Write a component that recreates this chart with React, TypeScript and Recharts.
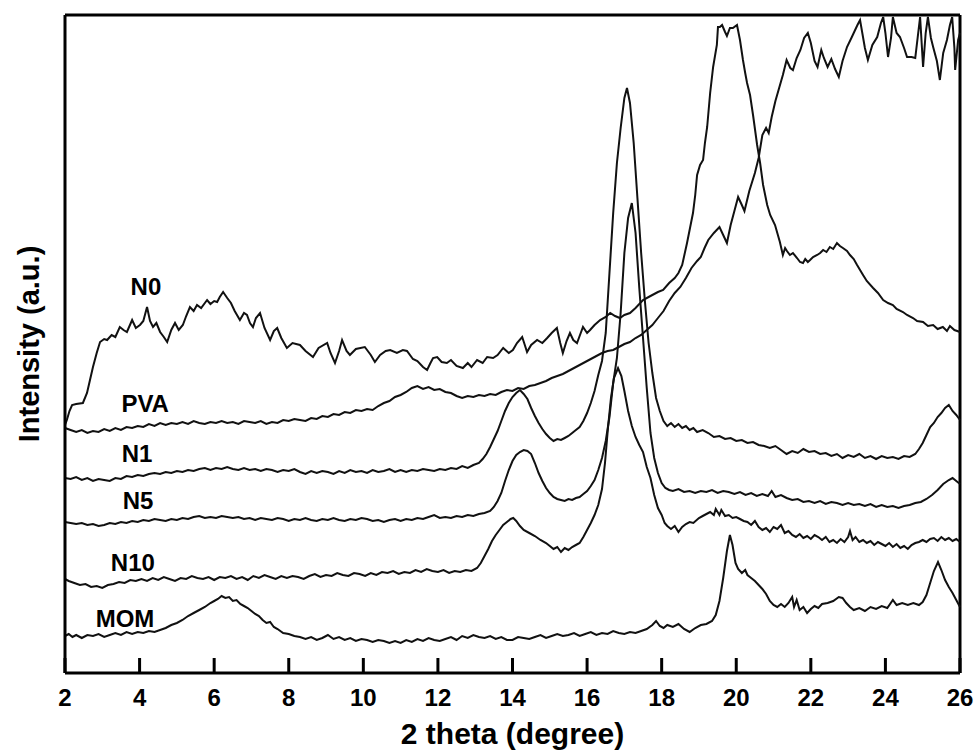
import { LineChart, Line, XAxis, YAxis, ReferenceDot, ReferenceLine } from 'recharts'

// x = 2 theta (degree), y = intensity (a.u., stacked offsets as drawn)
const X_TICKS = [2, 4, 6, 8, 10, 12, 14, 16, 18, 20, 22, 24, 26]
const X_DOMAIN: [number, number] = [2, 26]
const Y_DOMAIN: [number, number] = [0, 658]

const N0: [number, number][] = [
  [2.0,248],[2.05,253],[2.12,262],[2.19,268],[2.3,269],[2.48,270],[2.59,280],[2.67,293],[2.75,306],[2.85,320],[2.94,331],[3.05,334],[3.13,333],[3.25,338],[3.35,336],[3.47,346],[3.57,343],[3.66,341],[3.8,353],[3.9,345],[4.01,348],[4.1,352],[4.2,366],[4.28,352],[4.36,346],[4.45,350],[4.55,341],[4.65,336],[4.74,331],[4.85,343],[4.95,350],[5.05,343],[5.16,348],[5.25,357],[5.35,366],[5.45,362],[5.54,368],[5.65,365],[5.81,373],[5.9,369],[6.0,372],[6.08,371],[6.15,376],[6.24,381],[6.35,375],[6.45,370],[6.55,362],[6.69,353],[6.8,360],[6.88,358],[6.96,350],[7.04,346],[7.12,355],[7.23,360],[7.35,345],[7.5,333],[7.6,342],[7.69,345],[7.8,335],[7.95,325],[8.1,330],[8.3,328],[8.45,322],[8.65,316],[8.8,325],[9.03,330],[9.12,320],[9.24,310],[9.35,322],[9.43,333],[9.55,322],[9.64,318],[9.8,324],[10.04,326],[10.2,318],[10.31,311],[10.45,318],[10.6,322],[10.72,323],[10.9,320],[11.06,323],[11.17,322],[11.33,314],[11.45,312],[11.6,306],[11.71,303],[11.8,310],[11.87,315],[11.98,316],[12.1,311],[12.24,310],[12.35,313],[12.5,307],[12.67,305],[12.8,310],[12.9,306],[13.05,313],[13.2,310],[13.32,316],[13.48,315],[13.6,318],[13.75,325],[13.9,320],[14.01,323],[14.12,330],[14.26,336],[14.33,328],[14.39,321],[14.5,328],[14.66,333],[14.8,330],[14.93,335],[15.05,340],[15.19,345],[15.28,330],[15.35,320],[15.45,332],[15.54,340],[15.63,333],[15.73,330],[15.81,338],[15.89,346],[16.0,340],[16.08,343],[16.2,348],[16.35,353],[16.5,356],[16.62,360],[16.75,357],[16.88,355],[17.0,358],[17.15,360],[17.3,365],[17.5,373],[17.7,377],[17.9,381],[18.04,383],[18.2,390],[18.35,395],[18.45,400],[18.55,408],[18.68,430],[18.76,445],[18.84,460],[18.9,478],[18.95,498],[19.03,508],[19.11,513],[19.16,530],[19.22,546],[19.3,580],[19.38,606],[19.48,628],[19.51,646],[19.56,646],[19.62,648],[19.7,641],[19.75,637],[19.83,645],[19.91,645],[20.02,648],[20.1,633],[20.18,613],[20.24,600],[20.29,590],[20.37,578],[20.45,558],[20.56,528],[20.64,510],[20.72,488],[20.83,468],[20.91,458],[21.04,448],[21.17,431],[21.25,418],[21.31,425],[21.36,422],[21.44,418],[21.52,420],[21.63,415],[21.71,411],[21.79,410],[21.85,414],[21.92,411],[21.98,413],[22.06,416],[22.17,418],[22.25,420],[22.33,423],[22.42,421],[22.51,426],[22.6,424],[22.7,430],[22.78,427],[22.86,425],[22.97,422],[23.05,418],[23.15,414],[23.24,408],[23.32,403],[23.4,398],[23.5,392],[23.67,385],[23.8,380],[23.94,373],[24.07,370],[24.2,368],[24.3,364],[24.47,361],[24.58,358],[24.74,355],[24.85,352],[25.01,351],[25.14,347],[25.28,348],[25.4,344],[25.54,346],[25.65,342],[25.73,347],[25.85,343],[26.0,341],
]

const PVA: [number, number][] = [
  [2.0,245],[2.15,243],[2.3,241],[2.45,243],[2.6,240],[2.75,242],[2.9,241],[3.05,244],[3.2,242],[3.35,245],[3.5,243],[3.65,246],[3.8,245],[3.95,247],[4.1,246],[4.25,249],[4.4,247],[4.55,250],[4.7,248],[4.85,250],[5.0,249],[5.15,251],[5.3,249],[5.45,252],[5.6,250],[5.75,249],[5.9,251],[6.05,250],[6.2,252],[6.35,250],[6.5,251],[6.65,249],[6.8,252],[6.95,251],[7.1,250],[7.25,252],[7.4,249],[7.55,251],[7.7,250],[7.85,253],[8.0,252],[8.15,254],[8.3,253],[8.45,252],[8.6,255],[8.75,254],[8.9,257],[9.05,256],[9.2,259],[9.35,258],[9.5,261],[9.65,260],[9.8,263],[9.95,262],[10.1,264],[10.25,263],[10.4,267],[10.55,270],[10.7,272],[10.85,276],[11.0,278],[11.15,281],[11.3,285],[11.45,287],[11.6,284],[11.75,286],[11.9,283],[12.05,284],[12.2,281],[12.35,280],[12.5,277],[12.65,275],[12.8,277],[12.95,276],[13.1,278],[13.25,277],[13.4,279],[13.55,278],[13.7,281],[13.85,283],[14.0,282],[14.15,285],[14.3,284],[14.45,287],[14.6,288],[14.75,290],[14.9,292],[15.05,295],[15.2,297],[15.35,299],[15.5,302],[15.65,305],[15.8,308],[15.95,311],[16.1,314],[16.25,317],[16.4,320],[16.55,322],[16.7,323],[16.85,326],[17.0,329],[17.15,331],[17.3,335],[17.45,338],[17.6,343],[17.75,348],[17.9,355],[18.05,362],[18.2,372],[18.35,380],[18.5,386],[18.65,395],[18.8,405],[18.95,412],[19.05,416],[19.15,425],[19.25,433],[19.4,440],[19.55,446],[19.65,438],[19.75,430],[19.85,448],[19.95,462],[20.05,476],[20.15,468],[20.22,462],[20.35,482],[20.5,500],[20.6,515],[20.7,538],[20.8,545],[20.87,540],[20.95,556],[21.05,572],[21.15,585],[21.25,598],[21.35,613],[21.45,605],[21.52,603],[21.62,615],[21.72,623],[21.82,635],[21.92,640],[22.0,630],[22.1,612],[22.18,606],[22.28,623],[22.35,615],[22.45,606],[22.55,614],[22.65,604],[22.75,596],[22.85,612],[22.97,626],[23.1,636],[23.25,648],[23.32,653],[23.45,625],[23.53,613],[23.65,628],[23.78,636],[23.88,650],[23.94,656],[24.0,640],[24.07,616],[24.15,635],[24.2,656],[24.3,640],[24.39,636],[24.5,625],[24.58,616],[24.7,616],[24.8,615],[24.93,656],[25.01,606],[25.08,640],[25.14,656],[25.22,635],[25.28,626],[25.38,612],[25.46,593],[25.55,620],[25.65,633],[25.73,648],[25.79,656],[25.85,625],[25.87,603],[25.95,633],[26.0,640],
]

const N1: [number, number][] = [
  [2.0,195],[2.15,194],[2.3,196],[2.45,193],[2.6,195],[2.75,192],[2.9,194],[3.05,193],[3.2,192],[3.35,195],[3.5,194],[3.65,197],[3.8,196],[3.95,198],[4.1,197],[4.25,199],[4.4,200],[4.55,199],[4.7,201],[4.85,200],[5.0,202],[5.15,201],[5.3,203],[5.45,202],[5.6,204],[5.75,205],[5.9,203],[6.05,205],[6.2,204],[6.35,206],[6.5,204],[6.65,203],[6.8,205],[6.95,203],[7.1,204],[7.25,202],[7.4,204],[7.55,203],[7.7,201],[7.85,203],[8.0,202],[8.15,204],[8.3,201],[8.45,199],[8.6,202],[8.75,200],[8.9,202],[9.05,201],[9.2,199],[9.35,202],[9.5,200],[9.65,203],[9.8,201],[9.95,202],[10.1,200],[10.25,203],[10.4,201],[10.55,202],[10.7,204],[10.85,201],[11.0,203],[11.15,201],[11.3,203],[11.45,202],[11.6,204],[11.75,203],[11.9,202],[12.05,204],[12.2,203],[12.35,205],[12.5,204],[12.65,207],[12.8,205],[12.95,208],[13.1,210],[13.2,214],[13.3,219],[13.4,226],[13.5,234],[13.6,242],[13.7,252],[13.8,262],[13.9,270],[14.0,276],[14.1,280],[14.2,283],[14.3,279],[14.4,274],[14.5,265],[14.6,257],[14.7,250],[14.8,244],[14.9,239],[15.0,235],[15.1,232],[15.2,234],[15.3,233],[15.4,235],[15.5,237],[15.6,240],[15.7,243],[15.8,246],[15.9,252],[16.0,260],[16.1,270],[16.2,282],[16.3,298],[16.4,312],[16.5,340],[16.6,400],[16.7,460],[16.8,510],[16.9,545],[17.0,575],[17.07,585],[17.15,570],[17.25,530],[17.35,475],[17.45,420],[17.55,372],[17.65,330],[17.75,300],[17.85,275],[17.95,262],[18.05,252],[18.15,247],[18.25,250],[18.35,246],[18.45,249],[18.55,245],[18.65,247],[18.75,243],[18.85,245],[18.95,241],[19.1,243],[19.25,240],[19.4,236],[19.55,237],[19.7,234],[19.85,235],[20.0,232],[20.15,233],[20.3,230],[20.45,231],[20.6,228],[20.75,227],[20.9,225],[21.05,227],[21.2,223],[21.35,219],[21.5,222],[21.65,220],[21.8,224],[21.95,221],[22.1,222],[22.25,219],[22.4,220],[22.55,217],[22.7,219],[22.85,215],[23.0,218],[23.15,216],[23.3,219],[23.45,215],[23.6,217],[23.75,214],[23.9,217],[24.05,215],[24.2,216],[24.35,214],[24.5,217],[24.65,216],[24.8,219],[24.9,224],[25.0,230],[25.1,238],[25.2,246],[25.3,250],[25.4,256],[25.5,260],[25.6,265],[25.7,268],[25.8,262],[25.9,258],[26.0,253],
]

const N5: [number, number][] = [
  [2.0,151],[2.15,150],[2.3,149],[2.45,150],[2.6,148],[2.75,149],[2.9,147],[3.05,148],[3.2,150],[3.35,149],[3.5,151],[3.65,150],[3.8,152],[3.95,151],[4.1,153],[4.25,152],[4.4,154],[4.55,153],[4.7,152],[4.85,154],[5.0,153],[5.15,155],[5.3,154],[5.45,156],[5.6,157],[5.75,155],[5.9,156],[6.05,155],[6.2,157],[6.35,156],[6.5,155],[6.65,156],[6.8,154],[6.95,155],[7.1,153],[7.25,155],[7.4,154],[7.55,153],[7.7,155],[7.85,154],[8.0,152],[8.15,154],[8.3,153],[8.45,155],[8.6,153],[8.75,152],[8.9,154],[9.05,153],[9.2,155],[9.35,153],[9.5,152],[9.65,154],[9.8,153],[9.95,155],[10.1,154],[10.25,152],[10.4,153],[10.55,151],[10.7,153],[10.85,154],[11.0,152],[11.15,154],[11.3,153],[11.45,155],[11.6,154],[11.75,156],[11.9,158],[12.05,155],[12.2,156],[12.35,155],[12.5,157],[12.65,156],[12.8,158],[12.95,157],[13.1,159],[13.25,160],[13.4,162],[13.5,166],[13.6,172],[13.7,180],[13.8,192],[13.9,203],[14.0,212],[14.1,218],[14.2,221],[14.3,223],[14.4,222],[14.5,219],[14.6,210],[14.7,200],[14.8,192],[14.9,185],[15.0,180],[15.1,176],[15.2,174],[15.3,173],[15.4,172],[15.5,174],[15.6,173],[15.7,175],[15.8,176],[15.9,179],[16.0,182],[16.1,187],[16.2,193],[16.3,203],[16.4,215],[16.5,232],[16.6,256],[16.7,290],[16.8,315],[16.9,360],[17.0,420],[17.1,455],[17.2,470],[17.3,440],[17.4,385],[17.5,335],[17.6,285],[17.7,240],[17.8,215],[17.9,200],[18.0,190],[18.1,185],[18.2,183],[18.3,182],[18.45,184],[18.6,181],[18.75,182],[18.9,180],[19.05,182],[19.2,181],[19.35,183],[19.5,180],[19.65,182],[19.8,181],[19.95,179],[20.1,181],[20.25,178],[20.4,180],[20.55,177],[20.7,179],[20.85,177],[20.95,182],[21.05,176],[21.2,178],[21.35,175],[21.5,173],[21.65,174],[21.8,171],[21.95,172],[22.1,170],[22.25,172],[22.4,169],[22.55,171],[22.7,170],[22.85,168],[23.0,170],[23.15,168],[23.3,169],[23.45,167],[23.6,169],[23.75,166],[23.9,168],[24.05,166],[24.2,167],[24.35,165],[24.5,167],[24.65,168],[24.8,170],[24.95,171],[25.1,174],[25.25,178],[25.4,183],[25.55,189],[25.7,193],[25.8,195],[25.9,192],[26.0,189],
]

const N10: [number, number][] = [
  [2.0,94],[2.1,92],[2.25,90],[2.4,88],[2.55,89],[2.7,86],[2.85,87],[3.0,85],[3.15,88],[3.3,89],[3.45,91],[3.6,90],[3.75,93],[3.9,92],[4.05,94],[4.2,92],[4.35,95],[4.5,93],[4.65,96],[4.8,94],[4.95,92],[5.1,95],[5.25,94],[5.4,97],[5.55,95],[5.7,94],[5.85,96],[6.0,93],[6.15,96],[6.3,95],[6.45,97],[6.6,94],[6.75,96],[6.9,93],[7.05,97],[7.2,95],[7.35,98],[7.5,96],[7.65,94],[7.8,97],[7.95,95],[8.1,97],[8.25,96],[8.4,94],[8.55,97],[8.7,99],[8.85,96],[9.0,98],[9.15,97],[9.3,100],[9.45,98],[9.6,97],[9.75,100],[9.9,99],[10.05,97],[10.2,100],[10.35,98],[10.5,101],[10.65,100],[10.8,102],[10.95,99],[11.1,101],[11.25,100],[11.4,103],[11.55,101],[11.7,104],[11.85,102],[12.0,101],[12.15,103],[12.3,100],[12.45,102],[12.6,101],[12.75,103],[12.9,102],[13.05,105],[13.15,110],[13.25,117],[13.35,124],[13.45,132],[13.55,138],[13.65,143],[13.75,148],[13.85,151],[13.95,154],[14.02,155],[14.1,152],[14.2,147],[14.3,143],[14.45,140],[14.6,137],[14.75,133],[14.9,130],[15.0,127],[15.1,124],[15.2,126],[15.3,121],[15.4,125],[15.5,123],[15.6,126],[15.7,128],[15.8,130],[15.9,136],[16.0,143],[16.1,150],[16.2,158],[16.3,168],[16.4,184],[16.48,210],[16.56,245],[16.64,275],[16.72,295],[16.83,305],[16.92,297],[17.0,282],[17.1,262],[17.2,247],[17.3,236],[17.4,228],[17.5,221],[17.6,206],[17.7,195],[17.8,178],[17.9,165],[18.0,158],[18.08,150],[18.15,147],[18.25,144],[18.35,147],[18.45,141],[18.55,146],[18.65,149],[18.75,151],[18.85,150],[19.0,155],[19.1,157],[19.2,159],[19.3,161],[19.4,158],[19.45,164],[19.55,158],[19.6,163],[19.7,157],[19.8,158],[19.9,155],[20.0,156],[20.1,154],[20.2,152],[20.3,151],[20.4,148],[20.5,152],[20.6,146],[20.7,143],[20.8,145],[20.9,141],[21.0,146],[21.1,144],[21.2,148],[21.3,140],[21.4,142],[21.5,138],[21.6,136],[21.7,139],[21.8,135],[21.9,137],[22.0,134],[22.1,138],[22.2,136],[22.3,133],[22.4,136],[22.5,131],[22.6,133],[22.7,130],[22.8,134],[22.9,131],[23.0,136],[23.05,142],[23.12,133],[23.2,136],[23.3,131],[23.4,133],[23.5,130],[23.6,132],[23.7,128],[23.8,131],[23.9,129],[24.0,127],[24.1,130],[24.2,126],[24.3,129],[24.4,125],[24.5,127],[24.6,124],[24.7,128],[24.8,130],[24.9,131],[25.0,133],[25.1,131],[25.2,134],[25.3,135],[25.4,132],[25.5,136],[25.6,133],[25.7,135],[25.8,132],[25.9,134],[26.0,131],
]

const MOM: [number, number][] = [
  [2.0,37],[2.1,39],[2.2,36],[2.3,38],[2.45,35],[2.6,38],[2.75,37],[2.9,39],[3.05,36],[3.2,38],[3.35,40],[3.5,38],[3.65,41],[3.8,39],[3.95,41],[4.1,40],[4.25,42],[4.4,41],[4.55,43],[4.7,45],[4.85,48],[5.0,50],[5.15,53],[5.3,57],[5.45,60],[5.6,63],[5.75,66],[5.9,70],[6.0,72],[6.1,74],[6.2,77],[6.3,75],[6.4,76],[6.5,72],[6.6,73],[6.7,69],[6.8,67],[6.9,65],[7.0,62],[7.1,59],[7.2,57],[7.3,53],[7.4,50],[7.5,51],[7.6,46],[7.7,44],[7.85,40],[8.0,39],[8.15,37],[8.3,36],[8.45,34],[8.6,36],[8.75,33],[8.9,35],[9.05,38],[9.2,34],[9.35,36],[9.5,33],[9.65,35],[9.8,32],[9.95,34],[10.1,33],[10.25,31],[10.4,33],[10.55,32],[10.7,30],[10.85,32],[11.0,30],[11.15,33],[11.3,31],[11.45,34],[11.6,32],[11.75,35],[11.9,33],[12.05,32],[12.2,34],[12.35,36],[12.5,33],[12.65,37],[12.8,35],[12.95,38],[13.1,36],[13.25,35],[13.4,37],[13.55,34],[13.7,36],[13.85,33],[14.0,33],[14.15,36],[14.3,35],[14.45,34],[14.6,36],[14.75,38],[14.9,35],[15.05,37],[15.2,39],[15.35,37],[15.5,38],[15.65,40],[15.8,37],[15.95,39],[16.1,41],[16.25,38],[16.4,40],[16.55,39],[16.7,42],[16.85,40],[17.0,39],[17.15,41],[17.3,40],[17.45,42],[17.6,44],[17.75,48],[17.85,52],[17.95,47],[18.05,45],[18.15,48],[18.3,46],[18.45,49],[18.6,44],[18.75,41],[18.9,45],[19.05,48],[19.2,49],[19.35,52],[19.45,58],[19.55,72],[19.65,95],[19.75,122],[19.83,138],[19.9,128],[19.98,110],[20.05,104],[20.15,100],[20.24,103],[20.3,98],[20.4,95],[20.5,92],[20.6,88],[20.7,84],[20.8,79],[20.9,72],[21.0,68],[21.1,66],[21.2,69],[21.3,66],[21.4,70],[21.5,76],[21.55,66],[21.62,73],[21.7,63],[21.8,66],[21.9,60],[22.0,64],[22.1,67],[22.2,65],[22.3,69],[22.45,70],[22.6,72],[22.75,76],[22.85,75],[22.95,70],[23.05,66],[23.15,63],[23.3,65],[23.45,62],[23.6,66],[23.75,64],[23.9,67],[24.05,65],[24.2,73],[24.3,68],[24.45,70],[24.6,68],[24.75,70],[24.9,68],[25.0,71],[25.1,78],[25.2,90],[25.3,102],[25.41,111],[25.5,103],[25.6,93],[25.7,86],[25.8,80],[25.9,73],[26.0,66],
]

const SERIES = [
  { name: 'N0', points: N0 },
  { name: 'PVA', points: PVA },
  { name: 'N1', points: N1 },
  { name: 'N5', points: N5 },
  { name: 'N10', points: N10 },
  { name: 'MOM', points: MOM },
]

// where each curve's name sits (data coords)
const CURVE_LABELS = [
  { text: 'N0', x: 4.17, y: 387 },
  { text: 'PVA', x: 4.15, y: 270 },
  { text: 'N1', x: 3.93, y: 220 },
  { text: 'N5', x: 3.96, y: 173 },
  { text: 'N10', x: 3.82, y: 111 },
  { text: 'MOM', x: 3.61, y: 55 },
]

const toRows = (pts: [number, number][]) => pts.map(([x, y]) => ({ x, y }))

function BottomTick(props: any) {
  const { x, y, payload } = props
  return (
    <g>
      <line x1={x} y1={y} x2={x} y2={y - 15} stroke="#000" strokeWidth={3} />
      <text x={x} y={y + 33} textAnchor="middle" fontSize={24} fontWeight="bold" fill="#000">
        {payload.value}
      </text>
    </g>
  )
}

export default function App() {
  return (
    <div style={{ position: 'fixed', left: 0, top: 0, width: 978, height: 751, background: '#fff', fontFamily: '"Liberation Sans", Arial, sans-serif' }}>
      <LineChart width={978} height={751} margin={{ top: 15, right: 18, bottom: 0, left: 0 }}>
        <XAxis
          dataKey="x"
          type="number"
          domain={X_DOMAIN}
          ticks={X_TICKS}
          height={78}
          tickSize={0}
          tickMargin={0}
          tickLine={false}
          tick={<BottomTick />}
          axisLine={{ stroke: '#000', strokeWidth: 3 }}
          label={{ value: '2 theta (degree)', position: 'insideBottom', offset: 7, fontSize: 30, fontWeight: 'bold', fill: '#000' }}
        />
        <YAxis
          type="number"
          domain={Y_DOMAIN}
          width={65}
          tick={false}
          tickLine={false}
          axisLine={{ stroke: '#000', strokeWidth: 3 }}
          label={{ value: 'Intensity (a.u.)', angle: -90, position: 'center', dx: -4, fontSize: 29, fontWeight: 'bold', fill: '#000' }}
        />
        {/* closing frame: top and right edges */}
        <ReferenceLine y={Y_DOMAIN[1]} stroke="#000" strokeWidth={3} />
        <ReferenceLine x={X_DOMAIN[1]} stroke="#000" strokeWidth={3} />
        {SERIES.map(s => (
          <Line
            key={s.name}
            data={toRows(s.points)}
            dataKey="y"
            name={s.name}
            type="linear"
            stroke="#111"
            strokeWidth={2}
            dot={false}
            activeDot={false}
            isAnimationActive={false}
          />
        ))}
        {CURVE_LABELS.map(l => (
          <ReferenceDot
            key={l.text}
            x={l.x}
            y={l.y}
            r={0}
            fill="none"
            stroke="none"
            label={{ value: l.text, position: 'center', fontSize: 24, fontWeight: 'bold', fill: '#000' }}
          />
        ))}
      </LineChart>
    </div>
  )
}
